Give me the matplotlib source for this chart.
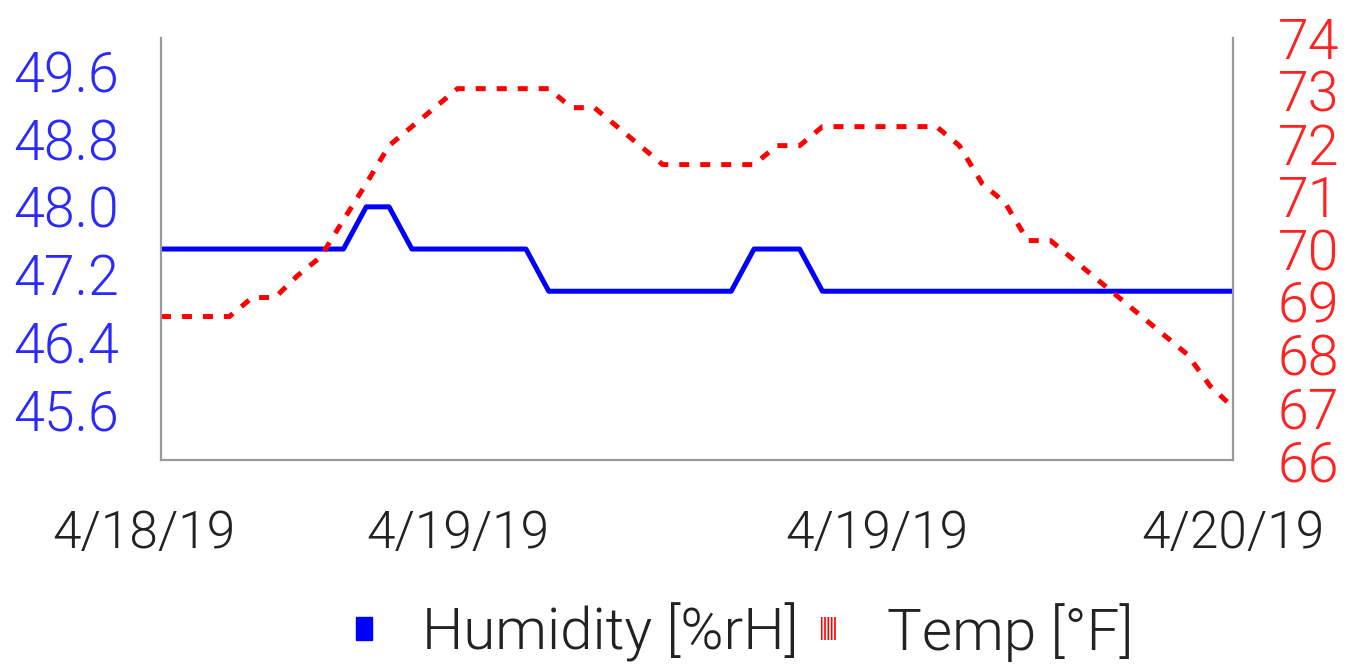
import numpy as np
import matplotlib
matplotlib.use('Agg')
import matplotlib.pyplot as plt
import matplotlib.transforms as mtransforms
from matplotlib.patches import Patch

# data: hourly readings, 48 points
humidity = [47.5]*9 + [48.0]*2 + [47.5]*6 + [47.0]*9 + [47.5]*3 + [47.0]*19
temp_f = [68.72, 68.72, 68.72, 68.72, 69.08, 69.08, 69.5, 69.85, 70.55, 71.24,
          71.96, 72.32, 72.68, 73.04, 73.04, 73.04, 73.04, 73.04, 72.68, 72.68,
          72.32, 71.96, 71.6, 71.6, 71.6, 71.6, 71.6, 71.96, 71.96, 72.32,
          72.32, 72.32, 72.32, 72.32, 72.32, 71.96, 71.24, 70.88, 70.16, 70.16,
          69.8, 69.44, 69.08, 68.72, 68.36, 68.0, 67.4, 67.0]
date_labels = ['4/18/19', '4/19/19', '4/19/19', '4/20/19']
date_pos = [-0.75, 13, 31.4, 47]

hum_ticks = [45.6, 46.4, 47.2, 48.0, 48.8, 49.6]
temp_ticks = [66, 67, 68, 69, 70, 71, 72, 73, 74]

plt.rcParams['font.family'] = ['Roboto', 'DejaVu Sans']
plt.rcParams['font.weight'] = 300
plt.rcParams['hatch.linewidth'] = 1.2
fs = 40

fig = plt.figure(figsize=(13.64, 6.67), dpi=100)
ax = fig.add_axes([0.118, 0.3103, 0.786, 0.6327])
ax2 = ax.twinx()

x = np.arange(len(humidity))
ax.plot(x, humidity, color='#0000ff', linewidth=3.6, solid_joinstyle='round')
ax2.plot(x, temp_f, color='#ff0000', linewidth=3.6, linestyle=(0, (2.0, 2.2)))

ax.set_yticks(hum_ticks)
ax.set_yticklabels(['{:.1f}'.format(v) for v in hum_ticks])
ax2.set_yticks(temp_ticks)
ax.set_xticks([])

ax.set_xlim(0, len(humidity) - 1)
ax.set_ylim(45.0, 50.0)
ax2.set_ylim(66, 74)

# date labels under the axis (first one sits left of the axis start)
trans = mtransforms.blended_transform_factory(ax.transData, ax.transAxes)
for p, lab in zip(date_pos, date_labels):
    ax.text(p, -0.115, lab, transform=trans, ha='center', va='top',
            fontsize=37, color='#222222', clip_on=False)

ax.tick_params(axis='y', length=0, pad=30, labelsize=fs, labelcolor='#2a2aff')
ax2.tick_params(axis='y', length=0, pad=32, labelsize=fs, labelcolor='#ff2222')

for a in (ax, ax2):
    a.spines['top'].set_visible(False)
    for s in ('left', 'right', 'bottom'):
        a.spines[s].set_color('#999999')
        a.spines[s].set_linewidth(1.5)

handles = [Patch(facecolor='#0000ff', edgecolor='#0000ff'),
           Patch(facecolor='white', edgecolor='#ff0000', hatch='|||||', linewidth=0)]
leg = fig.legend(handles, ['Humidity [%rH]', 'Temp [°F]'], loc='center',
                 bbox_to_anchor=(0.546, 0.052), ncol=2, frameon=False, fontsize=42,
                 handlelength=0.27, handleheight=0.25, handletextpad=0.85,
                 columnspacing=0.4)
for t in leg.get_texts():
    t.set_color('#222222')

fig.savefig('out.png', dpi=100)
